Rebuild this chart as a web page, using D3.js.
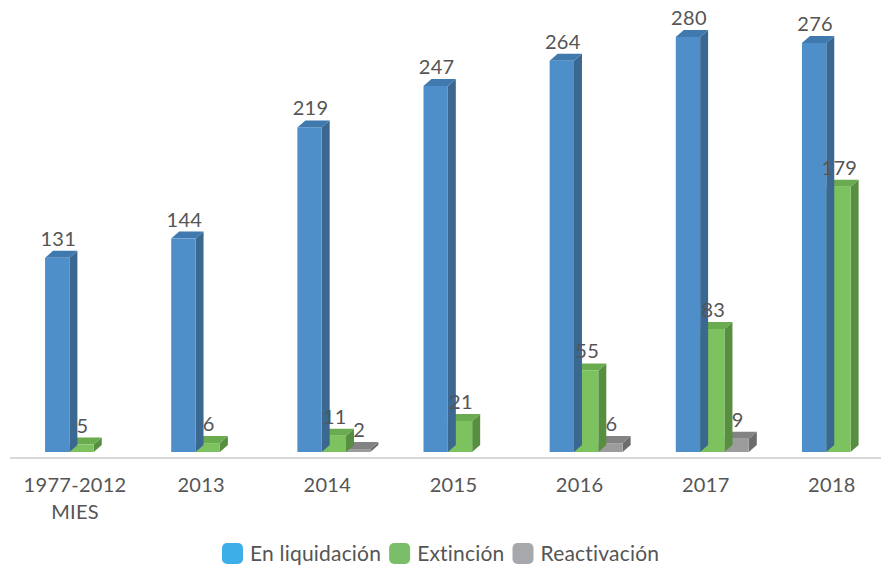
<!DOCTYPE html>
<html>
  <head>
    <meta charset="utf-8">
    <title>Sociedades</title>
    <script src="https://cdn.jsdelivr.net/npm/d3@7"></script>
    <style>
      body { margin: 0; background: #fff; }
      svg { display: block; font-family: Lato, "Noto Sans", sans-serif; }
      .lbl { fill: #555; font-size: 20px; letter-spacing: 0.3px; }
      .leg { fill: #555; font-size: 21px; letter-spacing: 0.2px; }
    </style>
  </head>
  <body>
    <script>
    const categories = ["1977-2012\nMIES", "2013", "2014", "2015", "2016", "2017", "2018"];
    const seriesNames = ["En liquidación", "Extinción", "Reactivación"];
    const liquidacion = [131, 144, 219, 247, 264, 280, 276];
    const extincion = [5, 6, 11, 21, 55, 83, 179];
    const reactivacion = [null, null, 2, null, 6, 9, null];
    const seriesValues = [liquidacion, extincion, reactivacion];

    const faces = [
      {front: "#4f8fc9", side: "#3a6891", top: "#3f79ae"},
      {front: "#7cc25e", side: "#588e3f", top: "#6aab4f"},
      {front: "#9c9c9c", side: "#6c6c6c", top: "#838383"}
    ];
    const legendColors = ["#3eaee8", "#7bbe6a", "#a7a8ab"];

    const width = 881, height = 568;
    const base = 452, depthX = 8, depthY = 7;

    const svg = d3.select("body").append("svg")
      .attr("width", width).attr("height", height);

    const x = d3.scaleBand().domain(categories).range([12, 895]).paddingInner(0).paddingOuter(0);
    const xs = d3.scaleBand().domain([0, 1, 2]).range([0, 73]);
    const y = d3.scaleLinear().domain([0, 280]).range([base, 37]);

    // axis line
    svg.append("line")
      .attr("x1", 10).attr("x2", 881)
      .attr("y1", base + 6).attr("y2", base + 6)
      .attr("stroke", "#d9d9d9").attr("stroke-width", 2);

    const groupX = c => x(c) + x.bandwidth() / 2 - 30;

    categories.forEach((c, i) => {
      // draw back to front: gray, green, blue so overlaps look right
      [2, 1, 0].forEach(s => {
        const v = seriesValues[s][i];
        if (v == null) return;
        const x0 = groupX(c) + xs(s), w = xs.bandwidth();
        const yt = y(v);
        const g = svg.append("g");
        // side
        g.append("path")
          .attr("d", `M${x0 + w},${base} L${x0 + w + depthX},${base - depthY} L${x0 + w + depthX},${yt - depthY} L${x0 + w},${yt} Z`)
          .attr("fill", faces[s].side);
        // top
        g.append("path")
          .attr("d", `M${x0},${yt} L${x0 + depthX},${yt - depthY} L${x0 + w + depthX},${yt - depthY} L${x0 + w},${yt} Z`)
          .attr("fill", faces[s].top);
        // front
        g.append("rect")
          .attr("x", x0).attr("y", yt)
          .attr("width", w).attr("height", base - yt)
          .attr("fill", faces[s].front);
      });
    });

    // value labels on top
    categories.forEach((c, i) => {
      seriesValues.forEach((vals, s) => {
        const v = vals[i];
        if (v == null) return;
        const x0 = groupX(c) + xs(s);
        svg.append("text").attr("class", "lbl")
          .attr("x", x0 + xs.bandwidth() / 2 + 1)
          .attr("y", y(v) - depthY - 5)
          .attr("text-anchor", "middle")
          .text(v);
      });
    });

    // category labels
    categories.forEach(c => {
      const t = svg.append("text").attr("class", "lbl")
        .attr("x", x(c) + x.bandwidth() / 2)
        .attr("y", 492)
        .attr("text-anchor", "middle");
      c.split("\n").forEach((line, k) => {
        t.append("tspan").attr("x", x(c) + x.bandwidth() / 2)
          .attr("dy", k === 0 ? 0 : 27).text(line);
      });
    });

    // legend
    const legend = svg.append("g").attr("transform", "translate(222,543)");
    let lx = 0;
    seriesNames.forEach((n, s) => {
      legend.append("rect").attr("x", lx).attr("y", 0)
        .attr("width", 21).attr("height", 21).attr("rx", 5)
        .attr("fill", legendColors[s]);
      const t = legend.append("text").attr("class", "leg")
        .attr("x", lx + 28).attr("y", 18).text(n);
      lx += 28 + t.node().getComputedTextLength() + 8;
    });
    </script>
  </body>
</html>
